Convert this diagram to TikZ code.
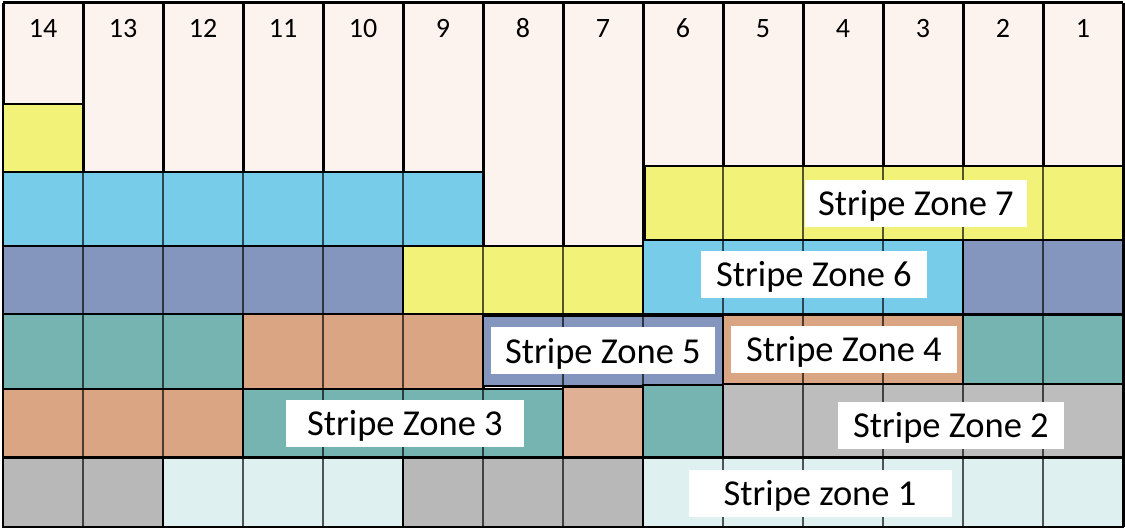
\documentclass[tikz,border=0pt]{standalone}
\usepackage{fontspec}
\setmainfont{Carlito}
\usetikzlibrary{positioning}
\definecolor{pinkbg}{RGB}{253,243,238}
\definecolor{zyellow}{RGB}{243,242,120}
\definecolor{zsky}{RGB}{119,204,234}
\definecolor{zslate}{RGB}{132,150,189}
\definecolor{zteal}{RGB}{118,180,178}
\definecolor{ztan}{RGB}{217,165,130}
\definecolor{ztanlt}{RGB}{223,176,148}
\definecolor{zgray}{RGB}{184,184,184}
\definecolor{zgraylt}{RGB}{190,189,189}
\definecolor{zmint}{RGB}{222,240,239}
\tikzset{
  col line/.style={draw=black, line width=3pt},
  zone box/.style={draw=black, line width=2.4pt},
  col num/.style={
    anchor=base, inner sep=0pt,
    font=\fontsize{28}{30}\selectfont
  },
  zone label/.style={
    fill=white, minimum width=224pt, minimum height=47pt,
    inner sep=0pt, text height=24pt, text depth=0pt,
    font=\fontsize{36.5}{40}\selectfont
  },
}
\newcommand{\zoneblock}[5]{%
  \fill[#5] (#1,#3) rectangle (#2,#4);
  \begin{scope}
    \clip (#1,#3) rectangle (#2,#4);
    \foreach \k in {1,...,13}
      \draw[#5!35!black, line width=2.4pt] ({3+80*\k},0) -- ({3+80*\k},529);
  \end{scope}
  \draw[zone box] (#1,#3) rectangle (#2,#4);
}

\begin{document}
\begin{tikzpicture}[x=1pt, y=-1pt]

  \useasboundingbox (0,0) rectangle (1125,529);

  \fill[pinkbg] (3,3) rectangle (1123,527);
  \foreach \k in {0,...,14}
    \draw[col line] ({3+80*\k},3) -- ({3+80*\k},527);
  \draw[col line] (3,3) -- (1123,3);

  \foreach \k in {0,...,13} {
    \pgfmathtruncatemacro{\num}{14-\k}
    \node[col num] (n\num) at ({43+80*\k},37.5) {\num};
  }

  \zoneblock{3}{83}{104}{172}{zyellow}
  \zoneblock{3}{483}{172}{246}{zsky}
  \zoneblock{645}{1123}{166}{240}{zyellow}

  \zoneblock{3}{403}{246}{314}{zslate}
  \zoneblock{403}{643}{246}{314}{zyellow}
  \zoneblock{643}{963}{240}{314}{zsky}
  \zoneblock{963}{1123}{240}{314}{zslate}

  \zoneblock{3}{243}{314}{389}{zteal}
  \zoneblock{243}{483}{314}{389}{ztan}
  \zoneblock{483}{723}{316}{386}{zslate}
  \zoneblock{723}{963}{315}{384}{ztan}
  \zoneblock{963}{1123}{315}{384}{zteal}

  \zoneblock{3}{243}{389}{457}{ztan}
  \zoneblock{243}{563}{389}{457}{zteal}
  \zoneblock{563}{643}{387}{457}{ztanlt}
  \zoneblock{643}{723}{385}{457}{zteal}
  \zoneblock{723}{1123}{384}{457}{zgraylt}

  \zoneblock{3}{163}{458}{527}{zgray}
  \zoneblock{163}{403}{458}{527}{zmint}
  \zoneblock{403}{643}{458}{527}{zgray}
  \zoneblock{643}{1123}{458}{527}{zmint}

  \node[zone label, minimum width=222pt] (z7) at (916,204) {Stripe Zone 7};
  \node[zone label, minimum width=226pt] (z6) at (814,275) {Stripe Zone 6};
  \node[zone label] (z5) at (603,351) {Stripe Zone 5};
  \node[zone label, minimum width=226pt] (z4) at (844,349.5) {Stripe Zone 4};
  \node[zone label, minimum width=238pt] (z3) at (405,423.5) {Stripe Zone 3};
  \node[zone label, minimum width=226pt] (z2) at (951,425) {Stripe Zone 2};
  \node[zone label, minimum width=263pt] (z1) at (820,493) {Stripe zone 1};

\end{tikzpicture}
\end{document}
